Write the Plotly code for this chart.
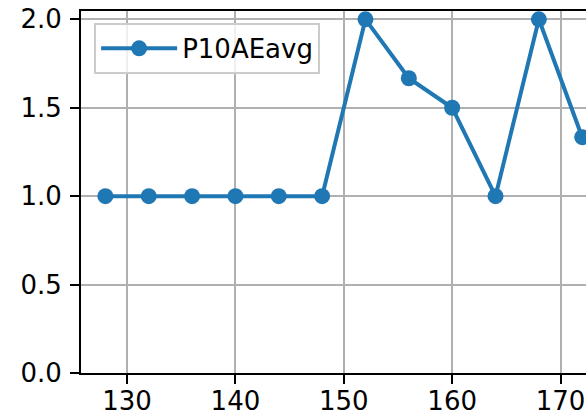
import plotly.graph_objects as go

# P10AEavg series
x_vals = [128, 132, 136, 140, 144, 148, 152, 156, 160, 164, 168, 172]
y_vals = [1.0, 1.0, 1.0, 1.0, 1.0, 1.0, 2.0, 1.6667, 1.5, 1.0, 2.0, 1.3333]
series_name = "P10AEavg"

x_ticks = [130, 140, 150, 160, 170]
y_ticks = [0.0, 0.5, 1.0, 1.5, 2.0]

fig = go.Figure()
fig.add_trace(go.Scatter(
    x=x_vals, y=y_vals, name=series_name, mode="lines+markers",
    line=dict(color="#1f77b4", width=4),
    marker=dict(color="#1f77b4", size=16),
    cliponaxis=False,
))

font = dict(family="DejaVu Sans", size=26, color="black")
fig.update_layout(
    width=586, height=417,
    margin=dict(l=81, r=0, t=11, b=44),
    paper_bgcolor="white", plot_bgcolor="white",
    font=font,
    showlegend=True,
    legend=dict(
        x=0.026, y=0.967, xanchor="left", yanchor="top",
        bgcolor="rgba(255,255,255,0.8)", bordercolor="#cccccc", borderwidth=2,
        font=font, itemwidth=76,
    ),
)
fig.update_xaxes(
    range=[125.75, 172.35], tickvals=x_ticks, tickfont=font, automargin=False,
    showgrid=True, gridcolor="#b0b0b0", gridwidth=2,
    showline=True, linecolor="black", linewidth=2, mirror=True,
    ticks="outside", ticklen=9, tickwidth=2, tickcolor="black",
    ticklabelstandoff=-5,
    zeroline=False,
)
fig.update_yaxes(
    range=[0, 2.047], tickvals=y_ticks, tickformat=".1f", tickfont=font, automargin=False,
    showgrid=True, gridcolor="#b0b0b0", gridwidth=2,
    showline=True, linecolor="black", linewidth=2,
    ticks="outside", ticklen=9, tickwidth=2, tickcolor="black",
    ticklabelstandoff=3,
    zeroline=False,
)

# drop the default 8px page margin so the figure fills the window
fig.write_html("out.html", config={"displayModeBar": False},
               post_script="document.body.style.margin='0px';")
